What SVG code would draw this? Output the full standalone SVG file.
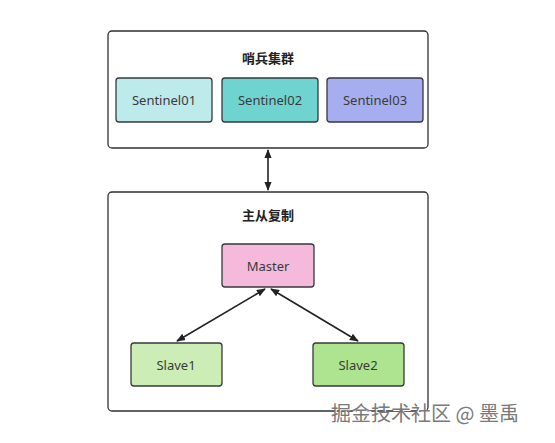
<svg xmlns="http://www.w3.org/2000/svg" width="555" height="443" viewBox="0 0 555 443">
<style>
.group{fill:#fff;stroke:#2f3135;stroke-width:1.3}
.node{stroke:#36393d;stroke-width:1.3}
.t{font-family:"Noto Sans","Open Sans",sans-serif;font-size:13px;fill:#3a3a3a;text-anchor:middle;dominant-baseline:central}
.h{font-family:"Noto Sans CJK SC",sans-serif;font-size:13px;font-weight:bold;fill:#222;text-anchor:middle;dominant-baseline:central}
.c{stroke:#222;stroke-width:1.6;fill:none;marker-start:url(#ah);marker-end:url(#ah)}
</style>
<defs>
<marker id="ah" viewBox="0 0 10 10" refX="9" refY="5" markerWidth="9" markerHeight="9" orient="auto-start-reverse" markerUnits="userSpaceOnUse">
<path d="M0,1 L10,5 L0,9 Z" fill="#222"/>
</marker>
</defs>
<rect width="555" height="443" fill="#fff"/>
<g id="sentinel-cluster">
<rect class="group" x="108" y="31" width="320" height="117" rx="4"/>
<text class="h" x="268" y="57">哨兵集群</text>
</g>
<g id="sentinel01"><rect class="node" x="116" y="78" width="96" height="44" rx="3" fill="#bdeaea"/><text class="t" x="164" y="100">Sentinel01</text></g>
<g id="sentinel02"><rect class="node" x="222" y="78" width="96" height="44" rx="3" fill="#6fd4d0"/><text class="t" x="270" y="100">Sentinel02</text></g>
<g id="sentinel03"><rect class="node" x="327" y="78" width="96" height="44" rx="3" fill="#a7aef0"/><text class="t" x="375" y="100">Sentinel03</text></g>
<g id="replication">
<rect class="group" x="108" y="192" width="320" height="219" rx="4"/>
<text class="h" x="268" y="214">主从复制</text>
</g>
<g id="master"><rect class="node" x="222" y="244" width="92" height="43" rx="3" fill="#f5badb"/><text class="t" x="268" y="266">Master</text></g>
<g id="slave1"><rect class="node" x="131" y="343" width="91" height="43" rx="3" fill="#cdedb6"/><text class="t" x="176" y="365">Slave1</text></g>
<g id="slave2"><rect class="node" x="313" y="343" width="91" height="43" rx="3" fill="#aee38f"/><text class="t" x="358" y="365">Slave2</text></g>
<g id="connectors">
<line class="c" x1="268" y1="150" x2="268" y2="190"/>
<line class="c" x1="265" y1="289" x2="177" y2="341"/>
<line class="c" x1="271" y1="289" x2="358" y2="341"/>
</g>
<text x="331" y="421" font-family="Noto Sans CJK SC,sans-serif" font-size="20" fill="#fff" transform="translate(1,1)">掘金技术社区 @ 墨禹</text>
<text x="331" y="421" font-family="Noto Sans CJK SC,sans-serif" font-size="20" fill="#7a7a7a">掘金技术社区 @ 墨禹</text>
</svg>
